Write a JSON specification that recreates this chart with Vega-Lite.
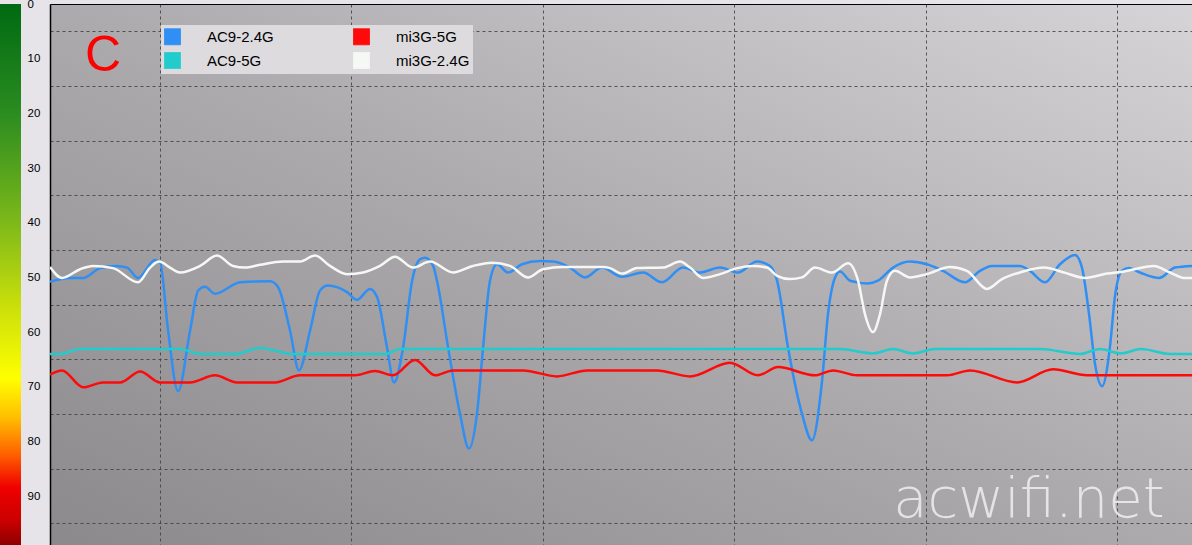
{
  "$schema": "https://vega.github.io/schema/vega-lite/v6.json",
  "background": "#e6e4e8",
  "padding": {"top": -2, "left": 0, "right": 0, "bottom": 0},
  "spacing": 0,
  "config": {"view": {"stroke": null}, "font": "Liberation Sans"},
  "hconcat": [
    {
      "width": 21,
      "height": 543,
      "data": {"values": [{"lo": 0, "hi": 99.3}]},
      "mark": {
        "type": "rect",
        "color": {
          "gradient": "linear", "x1": 0, "y1": 0, "x2": 0, "y2": 1,
          "stops": [
            {"offset": 0, "color": "#006a12"},
            {"offset": 0.2, "color": "#2a8c20"},
            {"offset": 0.4, "color": "#7cb81a"},
            {"offset": 0.56, "color": "#cce00a"},
            {"offset": 0.69, "color": "#ffff00"},
            {"offset": 0.76, "color": "#ffc000"},
            {"offset": 0.83, "color": "#ff6000"},
            {"offset": 0.89, "color": "#f00000"},
            {"offset": 0.95, "color": "#cc0000"},
            {"offset": 1, "color": "#880000"}
          ]
        }
      },
      "encoding": {
        "x": {"value": 0},
        "x2": {"value": "width"},
        "y": {
          "field": "lo", "type": "quantitative",
          "scale": {"domain": [0, 99.3], "reverse": true, "nice": false, "zero": false},
          "axis": {
            "orient": "right", "title": null,
            "values": [0, 10, 20, 30, 40, 50, 60, 70, 80, 90],
            "ticks": false, "tickSize": 0, "domain": false, "grid": false,
            "labelPadding": 6, "labelFontSize": 11.5, "labelColor": "#000000",
            "labelFont": "Liberation Sans",
            "minExtent": 29, "maxExtent": 29
          }
        },
        "y2": {"field": "hi"}
      }
    },
    {
      "width": 1142,
      "height": 543,
      "view": {
        "stroke": null,
        "fill": {
          "gradient": "linear", "x1": 0, "y1": 1, "x2": 1, "y2": 0,
          "stops": [
            {"offset": 0, "color": "#8b898b"},
            {"offset": 0.5, "color": "#acaaac"},
            {"offset": 1, "color": "#d6d4d6"}
          ]
        }
      },
      "layer": [
        {
          "data": {"values": [{"label": "acwifi.net", "t": 55.4, "v": 93.8}]},
          "mark": {"type": "text", "font": "DejaVu Sans", "fontWeight": 200, "fontSize": 56, "color": "#ffffff", "opacity": 0.7, "align": "center", "baseline": "alphabetic"},
          "encoding": {
            "x": {"field": "t", "type": "quantitative"},
            "y": {"field": "v", "type": "quantitative"},
            "text": {"field": "label"}
          }
        },
        {
          "data": {"values": [{"label": "C", "t": 7.02, "v": 9.42}]},
          "mark": {"type": "text", "font": "Liberation Sans", "fontSize": 50, "color": "#ff0000", "align": "center", "baseline": "middle"},
          "encoding": {
            "x": {"field": "t", "type": "quantitative"},
            "y": {"field": "v", "type": "quantitative"},
            "text": {"field": "label"}
          }
        },
        {
          "data": {"values": [
            {"s": "AC9-2.4G", "t": 4.25, "v": 50.8}, {"s": "AC9-2.4G", "t": 5.30, "v": 50.1}, {"s": "AC9-2.4G", "t": 5.98, "v": 50.1}, {"s": "AC9-2.4G", "t": 6.87, "v": 48.3}, {"s": "AC9-2.4G", "t": 7.75, "v": 47.9}, {"s": "AC9-2.4G", "t": 8.28, "v": 48.2}, {"s": "AC9-2.4G", "t": 8.85, "v": 50.1}, {"s": "AC9-2.4G", "t": 9.74, "v": 46.8}, {"s": "AC9-2.4G", "t": 10.00, "v": 47.2}, {"s": "AC9-2.4G", "t": 10.42, "v": 59.7}, {"s": "AC9-2.4G", "t": 10.94, "v": 70.8}, {"s": "AC9-2.4G", "t": 11.57, "v": 59.7}, {"s": "AC9-2.4G", "t": 11.99, "v": 52.4}, {"s": "AC9-2.4G", "t": 12.35, "v": 51.7}, {"s": "AC9-2.4G", "t": 12.87, "v": 53.0}, {"s": "AC9-2.4G", "t": 14.18, "v": 50.9}, {"s": "AC9-2.4G", "t": 15.75, "v": 50.7}, {"s": "AC9-2.4G", "t": 16.17, "v": 51.8}, {"s": "AC9-2.4G", "t": 16.79, "v": 59.7}, {"s": "AC9-2.4G", "t": 17.26, "v": 67.0}, {"s": "AC9-2.4G", "t": 17.84, "v": 59.7}, {"s": "AC9-2.4G", "t": 18.36, "v": 52.4}, {"s": "AC9-2.4G", "t": 18.78, "v": 51.5}, {"s": "AC9-2.4G", "t": 19.77, "v": 52.7}, {"s": "AC9-2.4G", "t": 20.29, "v": 54.1}, {"s": "AC9-2.4G", "t": 20.97, "v": 52.1}, {"s": "AC9-2.4G", "t": 21.34, "v": 53.6}, {"s": "AC9-2.4G", "t": 21.86, "v": 62.8}, {"s": "AC9-2.4G", "t": 22.23, "v": 69.2}, {"s": "AC9-2.4G", "t": 22.70, "v": 62.8}, {"s": "AC9-2.4G", "t": 23.17, "v": 50.6}, {"s": "AC9-2.4G", "t": 23.58, "v": 46.7}, {"s": "AC9-2.4G", "t": 23.85, "v": 46.4}, {"s": "AC9-2.4G", "t": 24.26, "v": 47.8}, {"s": "AC9-2.4G", "t": 24.47, "v": 50.6}, {"s": "AC9-2.4G", "t": 25.05, "v": 62.8}, {"s": "AC9-2.4G", "t": 25.67, "v": 74.9}, {"s": "AC9-2.4G", "t": 26.14, "v": 81.3}, {"s": "AC9-2.4G", "t": 26.56, "v": 74.9}, {"s": "AC9-2.4G", "t": 26.88, "v": 62.8}, {"s": "AC9-2.4G", "t": 27.24, "v": 50.6}, {"s": "AC9-2.4G", "t": 27.61, "v": 47.6}, {"s": "AC9-2.4G", "t": 28.18, "v": 49.1}, {"s": "AC9-2.4G", "t": 28.91, "v": 47.6}, {"s": "AC9-2.4G", "t": 29.85, "v": 47.0}, {"s": "AC9-2.4G", "t": 30.53, "v": 47.1}, {"s": "AC9-2.4G", "t": 31.42, "v": 48.2}, {"s": "AC9-2.4G", "t": 32.20, "v": 50.0}, {"s": "AC9-2.4G", "t": 33.09, "v": 48.2}, {"s": "AC9-2.4G", "t": 34.14, "v": 49.9}, {"s": "AC9-2.4G", "t": 35.24, "v": 49.1}, {"s": "AC9-2.4G", "t": 36.23, "v": 50.9}, {"s": "AC9-2.4G", "t": 37.32, "v": 48.2}, {"s": "AC9-2.4G", "t": 38.21, "v": 49.1}, {"s": "AC9-2.4G", "t": 39.26, "v": 48.2}, {"s": "AC9-2.4G", "t": 40.20, "v": 49.1}, {"s": "AC9-2.4G", "t": 41.19, "v": 47.1}, {"s": "AC9-2.4G", "t": 41.87, "v": 47.9}, {"s": "AC9-2.4G", "t": 42.24, "v": 50.6}, {"s": "AC9-2.4G", "t": 42.81, "v": 62.8}, {"s": "AC9-2.4G", "t": 43.54, "v": 74.9}, {"s": "AC9-2.4G", "t": 44.06, "v": 79.8}, {"s": "AC9-2.4G", "t": 44.59, "v": 68.9}, {"s": "AC9-2.4G", "t": 44.90, "v": 56.7}, {"s": "AC9-2.4G", "t": 45.27, "v": 50.0}, {"s": "AC9-2.4G", "t": 45.53, "v": 48.9}, {"s": "AC9-2.4G", "t": 46.05, "v": 50.6}, {"s": "AC9-2.4G", "t": 46.99, "v": 51.1}, {"s": "AC9-2.4G", "t": 47.51, "v": 50.6}, {"s": "AC9-2.4G", "t": 48.30, "v": 48.2}, {"s": "AC9-2.4G", "t": 49.18, "v": 47.1}, {"s": "AC9-2.4G", "t": 50.07, "v": 47.6}, {"s": "AC9-2.4G", "t": 50.91, "v": 48.8}, {"s": "AC9-2.4G", "t": 52.06, "v": 50.9}, {"s": "AC9-2.4G", "t": 52.84, "v": 48.8}, {"s": "AC9-2.4G", "t": 53.47, "v": 47.9}, {"s": "AC9-2.4G", "t": 54.93, "v": 47.9}, {"s": "AC9-2.4G", "t": 55.45, "v": 48.8}, {"s": "AC9-2.4G", "t": 56.24, "v": 50.9}, {"s": "AC9-2.4G", "t": 57.02, "v": 47.6}, {"s": "AC9-2.4G", "t": 57.81, "v": 45.9}, {"s": "AC9-2.4G", "t": 58.17, "v": 48.2}, {"s": "AC9-2.4G", "t": 58.54, "v": 56.7}, {"s": "AC9-2.4G", "t": 58.85, "v": 65.8}, {"s": "AC9-2.4G", "t": 59.22, "v": 69.9}, {"s": "AC9-2.4G", "t": 59.63, "v": 62.8}, {"s": "AC9-2.4G", "t": 59.89, "v": 53.6}, {"s": "AC9-2.4G", "t": 60.26, "v": 48.8}, {"s": "AC9-2.4G", "t": 60.63, "v": 48.3}, {"s": "AC9-2.4G", "t": 61.20, "v": 49.1}, {"s": "AC9-2.4G", "t": 62.20, "v": 50.1}, {"s": "AC9-2.4G", "t": 63.03, "v": 48.2}, {"s": "AC9-2.4G", "t": 63.92, "v": 47.9},

            {"s": "mi3G-2.4G", "t": 4.25, "v": 48.1}, {"s": "mi3G-2.4G", "t": 4.88, "v": 50.1}, {"s": "mi3G-2.4G", "t": 5.82, "v": 48.5}, {"s": "mi3G-2.4G", "t": 6.50, "v": 47.9}, {"s": "mi3G-2.4G", "t": 7.54, "v": 48.3}, {"s": "mi3G-2.4G", "t": 8.85, "v": 50.9}, {"s": "mi3G-2.4G", "t": 9.48, "v": 48.2}, {"s": "mi3G-2.4G", "t": 9.95, "v": 47.1}, {"s": "mi3G-2.4G", "t": 10.52, "v": 48.2}, {"s": "mi3G-2.4G", "t": 11.04, "v": 49.1}, {"s": "mi3G-2.4G", "t": 12.09, "v": 47.9}, {"s": "mi3G-2.4G", "t": 12.98, "v": 46.0}, {"s": "mi3G-2.4G", "t": 13.81, "v": 47.9}, {"s": "mi3G-2.4G", "t": 14.44, "v": 48.2}, {"s": "mi3G-2.4G", "t": 15.22, "v": 47.7}, {"s": "mi3G-2.4G", "t": 16.43, "v": 47.1}, {"s": "mi3G-2.4G", "t": 17.31, "v": 47.1}, {"s": "mi3G-2.4G", "t": 18.10, "v": 46.0}, {"s": "mi3G-2.4G", "t": 18.88, "v": 47.9}, {"s": "mi3G-2.4G", "t": 19.77, "v": 49.4}, {"s": "mi3G-2.4G", "t": 20.61, "v": 49.1}, {"s": "mi3G-2.4G", "t": 21.49, "v": 47.9}, {"s": "mi3G-2.4G", "t": 22.28, "v": 46.2}, {"s": "mi3G-2.4G", "t": 23.22, "v": 48.2}, {"s": "mi3G-2.4G", "t": 24.11, "v": 47.1}, {"s": "mi3G-2.4G", "t": 25.31, "v": 49.1}, {"s": "mi3G-2.4G", "t": 26.35, "v": 47.9}, {"s": "mi3G-2.4G", "t": 27.35, "v": 47.3}, {"s": "mi3G-2.4G", "t": 28.29, "v": 47.9}, {"s": "mi3G-2.4G", "t": 29.23, "v": 50.0}, {"s": "mi3G-2.4G", "t": 30.01, "v": 48.5}, {"s": "mi3G-2.4G", "t": 31.06, "v": 48.1}, {"s": "mi3G-2.4G", "t": 33.15, "v": 48.1}, {"s": "mi3G-2.4G", "t": 33.51, "v": 48.3}, {"s": "mi3G-2.4G", "t": 34.14, "v": 49.3}, {"s": "mi3G-2.4G", "t": 34.92, "v": 48.3}, {"s": "mi3G-2.4G", "t": 36.28, "v": 48.2}, {"s": "mi3G-2.4G", "t": 37.17, "v": 47.1}, {"s": "mi3G-2.4G", "t": 37.69, "v": 48.2}, {"s": "mi3G-2.4G", "t": 38.37, "v": 50.1}, {"s": "mi3G-2.4G", "t": 39.26, "v": 49.4}, {"s": "mi3G-2.4G", "t": 40.15, "v": 48.3}, {"s": "mi3G-2.4G", "t": 40.98, "v": 47.9}, {"s": "mi3G-2.4G", "t": 41.71, "v": 48.2}, {"s": "mi3G-2.4G", "t": 42.24, "v": 49.7}, {"s": "mi3G-2.4G", "t": 42.92, "v": 50.3}, {"s": "mi3G-2.4G", "t": 43.54, "v": 50.0}, {"s": "mi3G-2.4G", "t": 44.22, "v": 48.2}, {"s": "mi3G-2.4G", "t": 45.11, "v": 49.1}, {"s": "mi3G-2.4G", "t": 45.95, "v": 47.4}, {"s": "mi3G-2.4G", "t": 46.47, "v": 50.6}, {"s": "mi3G-2.4G", "t": 46.83, "v": 56.7}, {"s": "mi3G-2.4G", "t": 47.25, "v": 60.0}, {"s": "mi3G-2.4G", "t": 47.62, "v": 56.7}, {"s": "mi3G-2.4G", "t": 47.98, "v": 50.6}, {"s": "mi3G-2.4G", "t": 48.40, "v": 48.8}, {"s": "mi3G-2.4G", "t": 49.18, "v": 50.0}, {"s": "mi3G-2.4G", "t": 50.07, "v": 49.4}, {"s": "mi3G-2.4G", "t": 51.27, "v": 48.1}, {"s": "mi3G-2.4G", "t": 52.16, "v": 48.8}, {"s": "mi3G-2.4G", "t": 53.21, "v": 52.1}, {"s": "mi3G-2.4G", "t": 53.99, "v": 50.3}, {"s": "mi3G-2.4G", "t": 54.93, "v": 49.1}, {"s": "mi3G-2.4G", "t": 56.19, "v": 48.2}, {"s": "mi3G-2.4G", "t": 57.23, "v": 49.1}, {"s": "mi3G-2.4G", "t": 58.33, "v": 50.1}, {"s": "mi3G-2.4G", "t": 59.48, "v": 49.3}, {"s": "mi3G-2.4G", "t": 60.37, "v": 48.9}, {"s": "mi3G-2.4G", "t": 61.93, "v": 47.9}, {"s": "mi3G-2.4G", "t": 62.77, "v": 49.1}, {"s": "mi3G-2.4G", "t": 63.50, "v": 50.1}, {"s": "mi3G-2.4G", "t": 63.92, "v": 50.1},

            {"s": "AC9-5G", "t": 4.25, "v": 64.0}, {"s": "AC9-5G", "t": 4.78, "v": 64.0}, {"s": "AC9-5G", "t": 5.82, "v": 63.1}, {"s": "AC9-5G", "t": 11.04, "v": 63.1}, {"s": "AC9-5G", "t": 12.09, "v": 64.0}, {"s": "AC9-5G", "t": 13.92, "v": 64.0}, {"s": "AC9-5G", "t": 15.22, "v": 62.9}, {"s": "AC9-5G", "t": 16.95, "v": 64.0}, {"s": "AC9-5G", "t": 21.76, "v": 64.0}, {"s": "AC9-5G", "t": 22.54, "v": 63.1}, {"s": "AC9-5G", "t": 45.53, "v": 63.1}, {"s": "AC9-5G", "t": 47.25, "v": 63.9}, {"s": "AC9-5G", "t": 48.30, "v": 63.1}, {"s": "AC9-5G", "t": 49.34, "v": 63.9}, {"s": "AC9-5G", "t": 50.49, "v": 63.1}, {"s": "AC9-5G", "t": 55.98, "v": 63.1}, {"s": "AC9-5G", "t": 58.07, "v": 64.0}, {"s": "AC9-5G", "t": 59.11, "v": 63.1}, {"s": "AC9-5G", "t": 60.21, "v": 63.9}, {"s": "AC9-5G", "t": 61.25, "v": 63.1}, {"s": "AC9-5G", "t": 62.77, "v": 64.0}, {"s": "AC9-5G", "t": 63.92, "v": 64.0},

            {"s": "mi3G-5G", "t": 4.25, "v": 67.8}, {"s": "mi3G-5G", "t": 4.88, "v": 67.0}, {"s": "mi3G-5G", "t": 5.99, "v": 70.1}, {"s": "mi3G-5G", "t": 7.02, "v": 69.2}, {"s": "mi3G-5G", "t": 7.91, "v": 69.2}, {"s": "mi3G-5G", "t": 8.96, "v": 67.2}, {"s": "mi3G-5G", "t": 10.00, "v": 69.2}, {"s": "mi3G-5G", "t": 11.57, "v": 69.2}, {"s": "mi3G-5G", "t": 12.87, "v": 67.9}, {"s": "mi3G-5G", "t": 14.02, "v": 69.2}, {"s": "mi3G-5G", "t": 16.01, "v": 69.2}, {"s": "mi3G-5G", "t": 17.31, "v": 67.9}, {"s": "mi3G-5G", "t": 20.19, "v": 67.9}, {"s": "mi3G-5G", "t": 21.23, "v": 67.1}, {"s": "mi3G-5G", "t": 22.17, "v": 67.9}, {"s": "mi3G-5G", "t": 23.32, "v": 65.1}, {"s": "mi3G-5G", "t": 24.37, "v": 67.9}, {"s": "mi3G-5G", "t": 25.31, "v": 67.0}, {"s": "mi3G-5G", "t": 28.97, "v": 67.0}, {"s": "mi3G-5G", "t": 30.74, "v": 68.1}, {"s": "mi3G-5G", "t": 32.31, "v": 67.0}, {"s": "mi3G-5G", "t": 35.97, "v": 67.0}, {"s": "mi3G-5G", "t": 37.69, "v": 68.1}, {"s": "mi3G-5G", "t": 39.78, "v": 65.6}, {"s": "mi3G-5G", "t": 41.24, "v": 67.9}, {"s": "mi3G-5G", "t": 42.29, "v": 66.4}, {"s": "mi3G-5G", "t": 44.22, "v": 67.9}, {"s": "mi3G-5G", "t": 45.16, "v": 67.0}, {"s": "mi3G-5G", "t": 46.42, "v": 67.9}, {"s": "mi3G-5G", "t": 51.12, "v": 67.9}, {"s": "mi3G-5G", "t": 52.32, "v": 67.0}, {"s": "mi3G-5G", "t": 54.78, "v": 69.2}, {"s": "mi3G-5G", "t": 56.66, "v": 66.8}, {"s": "mi3G-5G", "t": 58.43, "v": 67.9}, {"s": "mi3G-5G", "t": 63.92, "v": 67.9}
          ]},
          "mark": {"type": "line", "interpolate": "monotone", "strokeWidth": 2.5, "clip": true},
          "encoding": {
            "x": {
              "field": "t", "type": "quantitative",
              "scale": {"domain": [4.25, 63.92], "nice": false, "zero": false},
              "axis": {
                "orient": "top", "title": null, "values": [10, 20, 30, 40, 50, 60],
                "labels": false, "ticks": false, "domain": true, "domainColor": "#000000", "domainWidth": 1,
                "grid": true, "gridColor": "#404040", "gridDash": [3, 3], "gridWidth": 1, "gridOpacity": 0.85,
                "minExtent": 0, "maxExtent": 0
              }
            },
            "y": {
              "field": "v", "type": "quantitative",
              "scale": {"domain": [0, 99.3], "reverse": true, "nice": false, "zero": false},
              "axis": {
                "orient": "left", "title": null,
                "values": [5, 10, 15, 20, 25, 30, 35, 40, 45, 50, 55, 60, 65, 70, 75, 80, 85, 90, 95],
                "labels": false, "ticks": false, "domain": true, "domainColor": "#000000", "domainWidth": 1.5,
                "grid": true, "gridColor": "#404040", "gridDash": [3, 3], "gridWidth": 1, "gridOpacity": 0.85,
                "minExtent": 0, "maxExtent": 0
              }
            },
            "color": {
              "field": "s", "type": "nominal",
              "scale": {
                "domain": ["AC9-2.4G", "AC9-5G", "mi3G-5G", "mi3G-2.4G"],
                "range": ["#2f8ff5", "#22cccc", "#ff0a0a", "#f6f8f6"]
              },
              "legend": {
                "orient": "none", "legendX": 161, "legendY": 21,
                "title": null, "columns": 2, "gridAlign": "all", "columnPadding": 70, "rowPadding": 3,
                "padding": 3, "fillColor": "#dddbde",
                "symbolType": "square", "symbolSize": 256,
                "labelFont": "Liberation Sans", "labelFontSize": 15, "labelColor": "#000000", "labelOffset": 26, "labelLimit": 300,
                "labelExpr": "datum.label + '\u00a0\u00a0\u00a0\u00a0\u00a0\u00a0\u00a0\u00a0\u00a0\u00a0'",
                "encode": {
                  "symbols": {"update": {"fill": {"scale": "color", "field": "value"}, "fillOpacity": {"value": 1}, "stroke": {"value": "#6f7a86"}, "strokeWidth": {"value": 1}, "strokeDash": {"value": [1, 0]}}}
                }
              }
            }
          }
        }
      ]
    }
  ]
}
